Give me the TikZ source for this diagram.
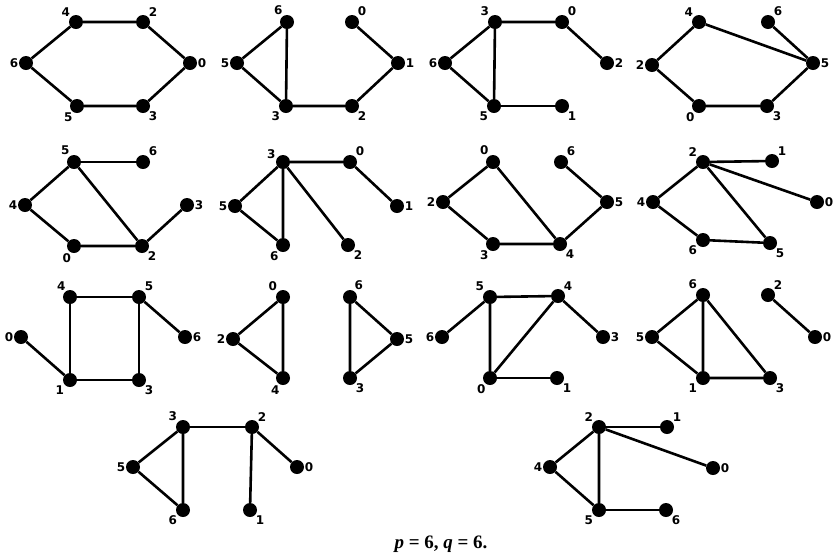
\documentclass[tikz,border=0pt]{standalone}
\usepackage{fontspec}
\setmainfont{DejaVu Sans}
\newfontfamily\capfont{Liberation Serif}
\begin{document}
\begin{tikzpicture}[x=1pt,y=-1pt,
  dot/.style={circle,fill=black,inner sep=0pt,minimum size=14pt},
  lbl/.style={font=\bfseries\fontsize{12}{12}\selectfont,inner sep=1pt},
  every label/.style={lbl},
  label distance=-0.5pt,
  edge/.style={line width=2.6pt},
  captxt/.style={font=\capfont\bfseries\fontsize{19}{19}\selectfont}]
\useasboundingbox (0,0) rectangle (836,558);
% ---------- Graph 1
\node[dot,label=135:4] (a4) at (76,22) {};
\node[dot,label=45:2] (a2) at (143,22) {};
\node[dot,label=0:0] (a0) at (190,63) {};
\node[dot,label=-45:3] (a3) at (143,106) {};
\node[dot,label=-120:5] (a5) at (77,106) {};
\node[dot,label=180:6] (a6) at (26,63) {};
\draw[edge] (a4)--(a2)--(a0)--(a3)--(a5)--(a6)--(a4);
% ---------- Graph 2
\node[dot,label=120:6] (b6) at (287,22) {};
\node[dot,label=180:5] (b5) at (237,63) {};
\node[dot,label=-135:3] (b3) at (286,106) {};
\node[dot,label=-45:2] (b2) at (352,106) {};
\node[dot,label=0:1] (b1) at (398,63) {};
\node[dot,label=45:0] (b0) at (352,22) {};
\draw[edge] (b6)--(b5)--(b3)--(b6);
\draw[edge] (b3)--(b2)--(b1)--(b0);
% ---------- Graph 3
\node[dot,label=135:3] (c3) at (495,22) {};
\node[dot,label=45:0] (c0) at (562,22) {};
\node[dot,label=0:2] (c2) at (607,63) {};
\node[dot,label=180:6] (c6) at (445,63) {};
\node[dot,label=-135:5] (c5) at (494,106) {};
\node[dot,label=-45:1] (c1) at (562,106) {};
\draw[edge] (c3)--(c0)--(c2);
\draw[edge] (c3)--(c6)--(c5)--(c3);
\draw[edge] (c5)--(c1);
% ---------- Graph 4
\node[dot,label=135:4] (d4) at (699,22) {};
\node[dot,label=45:6] (d6) at (768,22) {};
\node[dot,label=0:5] (d5) at (813,63) {};
\node[dot,label=-45:3] (d3) at (767,106) {};
\node[dot,label=-120:0] (d0) at (699,106) {};
\node[dot,label=180:2] (d2) at (652,65) {};
\draw[edge] (d4)--(d2)--(d0)--(d3)--(d5)--(d4);
\draw[edge] (d5)--(d6);
% ---------- Graph 5
\node[dot,label=120:5] (e5) at (74,162) {};
\node[dot,label=45:6] (e6) at (143,162) {};
\node[dot,label=180:4] (e4) at (25,205) {};
\node[dot,label=-105:0] (e0) at (74,246) {};
\node[dot,label=-45:2] (e2) at (142,246) {};
\node[dot,label=0:3] (e3) at (187,205) {};
\draw[edge] (e5)--(e6);
\draw[edge] (e5)--(e4)--(e0)--(e2)--(e5);
\draw[edge] (e2)--(e3);
% ---------- Graph 6
\node[dot,label=160:3] (f3) at (283,162) {};
\node[dot,label=45:0] (f0) at (350,162) {};
\node[dot,label=0:1] (f1) at (397,206) {};
\node[dot,label=180:5] (f5) at (235,206) {};
\node[dot,label=-120:6] (f6) at (283,245) {};
\node[dot,label=-45:2] (f2) at (348,245) {};
\draw[edge] (f3)--(f0)--(f1);
\draw[edge] (f3)--(f5)--(f6)--(f3);
\draw[edge] (f3)--(f2);
% ---------- Graph 7
\node[dot,label=120:0] (g0) at (493,162) {};
\node[dot,label=45:6] (g6) at (561,162) {};
\node[dot,label=0:5] (g5) at (607,202) {};
\node[dot,label=-45:4] (g4) at (560,244) {};
\node[dot,label=-120:3] (g3) at (493,244) {};
\node[dot,label=180:2] (g2) at (443,202) {};
\draw[edge] (g0)--(g2)--(g3)--(g4)--(g0);
\draw[edge] (g4)--(g5)--(g6);
% ---------- Graph 8
\node[dot,label=135:2] (h2) at (703,162) {};
\node[dot,label=45:1] (h1) at (772,161) {};
\node[dot,label=0:0] (h0) at (817,202) {};
\node[dot,label=-45:5] (h5) at (770,243) {};
\node[dot,label=-135:6] (h6) at (703,240) {};
\node[dot,label=180:4] (h4) at (653,202) {};
\draw[edge] (h2)--(h1);
\draw[edge] (h2)--(h0);
\draw[edge] (h2)--(h5);
\draw[edge] (h2)--(h4)--(h6)--(h5);
% ---------- Graph 9
\node[dot,label=120:4] (i4) at (70,297) {};
\node[dot,label=45:5] (i5) at (139,297) {};
\node[dot,label=0:6] (i6) at (185,337) {};
\node[dot,label=-45:3] (i3) at (139,380) {};
\node[dot,label=-135:1] (i1) at (70,380) {};
\node[dot,label=180:0] (i0) at (21,337) {};
\draw[edge] (i4)--(i5)--(i3)--(i1)--(i4);
\draw[edge] (i5)--(i6);
\draw[edge] (i0)--(i1);
% ---------- Graph 10
\node[dot,label=135:0] (j0) at (283,297) {};
\node[dot,label=180:2] (j2) at (233,339) {};
\node[dot,label=-110:4] (j4) at (283,378) {};
\draw[edge] (j0)--(j2)--(j4)--(j0);
% ---------- Graph 11
\node[dot,label=60:6] (k6) at (350,297) {};
\node[dot,label=0:5] (k5) at (397,339) {};
\node[dot,label=-45:3] (k3) at (350,378) {};
\draw[edge] (k6)--(k5)--(k3)--(k6);
% ---------- Graph 12
\node[dot,label=135:5] (l5) at (490,297) {};
\node[dot,label=45:4] (l4) at (558,296) {};
\node[dot,label=0:3] (l3) at (603,337) {};
\node[dot,label=-45:1] (l1) at (557,378) {};
\node[dot,label=-120:0] (l0) at (490,378) {};
\node[dot,label=180:6] (l6) at (442,337) {};
\draw[edge] (l5)--(l4)--(l0)--(l5);
\draw[edge] (l4)--(l3);
\draw[edge] (l0)--(l1);
\draw[edge] (l5)--(l6);
% ---------- Graph 13
\node[dot,label=135:6] (m6) at (703,295) {};
\node[dot,label=180:5] (m5) at (652,337) {};
\node[dot,label=-135:1] (m1) at (703,378) {};
\node[dot,label=-45:3] (m3) at (770,378) {};
\draw[edge] (m6)--(m5)--(m1)--(m6);
\draw[edge] (m6)--(m3)--(m1);
% ---------- Graph 14
\node[dot,label=45:2] (n2) at (768,295) {};
\node[dot,label=0:0] (n0) at (815,337) {};
\draw[edge] (n2)--(n0);
% ---------- Graph 15
\node[dot,label=135:3] (o3) at (183,427) {};
\node[dot,label=45:2] (o2) at (252,427) {};
\node[dot,label=0:0] (o0) at (297,467) {};
\node[dot,label=-45:1] (o1) at (250,510) {};
\node[dot,label=-135:6] (o6) at (183,510) {};
\node[dot,label=180:5] (o5) at (133,467) {};
\draw[edge] (o3)--(o2);
\draw[edge] (o3)--(o5)--(o6)--(o3);
\draw[edge] (o2)--(o0);
\draw[edge] (o2)--(o1);
% ---------- Graph 16
\node[dot,label=135:2] (p2) at (599,427) {};
\node[dot,label=45:1] (p1) at (667,427) {};
\node[dot,label=0:0] (p0) at (713,468) {};
\node[dot,label=-45:6] (p6) at (666,510) {};
\node[dot,label=-135:5] (p5) at (599,510) {};
\node[dot,label=180:4] (p4) at (550,467) {};
\draw[edge] (p2)--(p1);
\draw[edge] (p2)--(p0);
\draw[edge] (p2)--(p4)--(p5)--(p2);
\draw[edge] (p5)--(p6);
% ---------- caption
\node[captxt] (caption) at (441,544) {\textit{p} = 6, \textit{q} = 6.};
\end{tikzpicture}
\end{document}
